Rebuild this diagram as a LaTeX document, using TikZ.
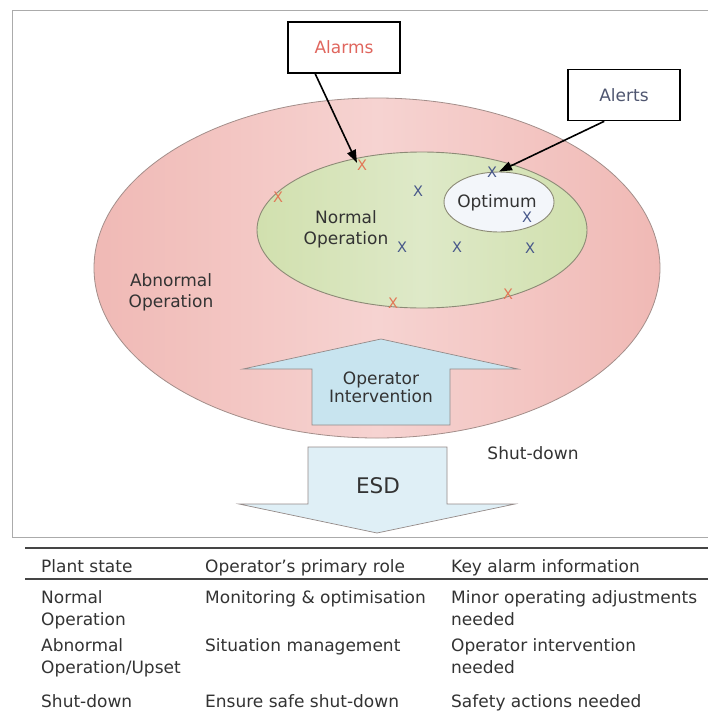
\documentclass[tikz,border=0pt]{standalone}
\usepackage{fontspec}
\setmainfont{DejaVu Sans}
\usetikzlibrary{shapes.geometric,arrows.meta,calc}
\definecolor{pinkedge}{HTML}{F0B9B5}
\definecolor{pinkmid}{HTML}{F6D3D1}
\definecolor{pinkline}{HTML}{A38E8A}
\definecolor{greenedge}{HTML}{D1E0AE}
\definecolor{greenmid}{HTML}{DEE9C8}
\definecolor{greenline}{HTML}{8C8A76}
\definecolor{optfill}{HTML}{F3F6FA}
\definecolor{bluefill}{HTML}{C8E4EF}
\definecolor{esdfill}{HTML}{DFEFF6}
\definecolor{arrowline}{HTML}{948A88}
\definecolor{alarmred}{HTML}{E0665E}
\definecolor{alertblue}{HTML}{4F5670}
\definecolor{xred}{HTML}{E27858}
\definecolor{xblue}{HTML}{48588A}
\definecolor{txt}{HTML}{333333}
\definecolor{framegray}{HTML}{ABABAB}
\definecolor{rulegray}{HTML}{454545}
\begin{document}
\begin{tikzpicture}[x=1pt,y=-1pt,
  font=\fontsize{17}{21}\selectfont, text=txt,
  lbl/.style={align=center, inner sep=0pt},
  callout/.style={draw=black, line width=1.6pt, fill=white, minimum width=112pt, minimum height=51pt, inner sep=0pt},
  pointer/.style={-{Triangle[length=13pt,width=9pt]}, line width=1.6pt, black},
  xr/.style={text=xred, font=\fontsize{14.5}{14.5}\selectfont, inner sep=0pt},
  xb/.style={text=xblue, font=\fontsize{14.5}{14.5}\selectfont, inner sep=0pt},
  cell/.style={anchor=base west, inner sep=0pt, align=left, font=\fontsize{17}{22}\selectfont},
  blockarrow/.style={draw=arrowline, line width=0.7pt, line join=miter}
]
\useasboundingbox (0,0) rectangle (708,713);
\fill[white] (0,0) rectangle (708,713);
% frame
\draw[framegray, line width=1pt] (12,10) rectangle (710,537);

% ellipses
\node[ellipse, draw=pinkline, line width=0.8pt, left color=pinkedge, right color=pinkedge, middle color=pinkmid,
      minimum width=566pt, minimum height=340pt, inner sep=0pt] (abn) at (377,268) {};
\node[ellipse, draw=greenline, line width=0.9pt, left color=greenedge, right color=greenedge, middle color=greenmid,
      minimum width=330pt, minimum height=156pt, inner sep=0pt] (norm) at (422,230) {};
\node[ellipse, draw=greenline, line width=0.9pt, fill=optfill,
      minimum width=110pt, minimum height=60pt, inner sep=0pt] (opt) at (499,202) {};

% labels
\node[lbl] (abntxt) at (171,292) {Abnormal\\Operation};
\node[lbl] (normtxt) at (346,229) {Normal\\Operation};
\node[lbl] (opttxt) at (497,203) {Optimum};

% x marks
\node[xr] (xr1) at (362,165) {X};
\node[xr] (xr2) at (278,197) {X};
\node[xr] (xr3) at (393,303) {X};
\node[xr] (xr4) at (508,294) {X};
\node[xb] (xb1) at (492,172) {X};
\node[xb] (xb2) at (418,191) {X};
\node[xb] (xb3) at (527,217) {X};
\node[xb] (xb4) at (402,247) {X};
\node[xb] (xb5) at (457,247) {X};
\node[xb] (xb6) at (530,248) {X};

% callouts
\node[callout, text=alarmred] (alarms) at (344,47.5) {Alarms};
\node[callout, text=alertblue] (alerts) at (624,95) {Alerts};
\coordinate (alarmtip) at (357,163);
\draw[pointer] ($(alarms.south west)+(28,0)$) -- (alarmtip);
\draw[pointer] ($(alerts.south west)+(37,0)$) -- (opt.north);

% operator intervention arrow
\draw[blockarrow, fill=bluefill] (312,425) -- (312,369) -- (243,369) -- (381,339) -- (518,369) -- (450,369) -- (450,425) -- cycle;
\node[lbl, font=\fontsize{17}{18}\selectfont] (opint) at (381,387) {Operator\\Intervention};

% ESD arrow
\draw[blockarrow, fill=esdfill] (308,447) -- (447,447) -- (447,504) -- (515,504) -- (377,533) -- (239,504) -- (308,504) -- cycle;
\node[lbl, font=\fontsize{21.5}{21.5}\selectfont] (esd) at (378,486) {ESD};
\node[lbl] (shut) at (533,453) {Shut-down};

% table (base anchor of a two-line cell is its last line)
\draw[rulegray, line width=2pt] (25,548) -- (710,548);
\draw[rulegray, line width=2pt] (25,579) -- (710,579);
\node[cell] (h1) at (41,572) {Plant state};
\node[cell] (h2) at (205,572) {Operator's primary role};
\node[cell] (h3) at (451,572) {Key alarm information};
\node[cell] (r1a) at (41,625) {Normal\\Operation};
\node[cell] (r1b) at (205,603) {Monitoring \& optimisation};
\node[cell] (r1c) at (451,625) {Minor operating adjustments\\needed};
\node[cell] (r2a) at (41,673) {Abnormal\\Operation/Upset};
\node[cell] (r2b) at (205,651) {Situation management};
\node[cell] (r2c) at (451,673) {Operator intervention\\needed};
\node[cell] (r3a) at (41,707) {Shut-down};
\node[cell] (r3b) at (205,707) {Ensure safe shut-down};
\node[cell] (r3c) at (451,707) {Safety actions needed};
\end{tikzpicture}
\end{document}
